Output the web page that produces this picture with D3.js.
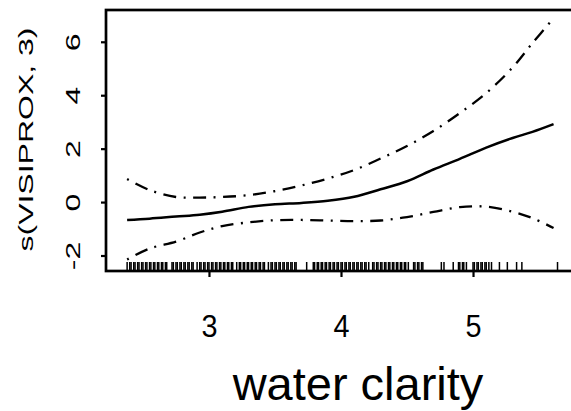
<!DOCTYPE html>
<html>
<head>
<meta charset="utf-8">
<script src="https://cdn.jsdelivr.net/npm/d3@7"></script>
<style>
  html, body { margin: 0; padding: 0; background: #fff; }
  svg { display: block; }
  text { font-family: "Liberation Sans", Arial, sans-serif; fill: #000; }
</style>
</head>
<body>
<div id="chart"></div>
<script>
// smooth term of water clarity
const clarity = [2.38, 2.55, 2.75, 2.93, 3.1, 3.3, 3.5, 3.7, 3.9, 4.1, 4.3, 4.5, 4.7, 4.9, 5.1, 5.3, 5.45, 5.61];
const fit     = [-0.67, -0.62, -0.54, -0.47, -0.36, -0.18, -0.08, -0.03, 0.05, 0.20, 0.48, 0.78, 1.22, 1.62, 2.04, 2.40, 2.63, 2.92];
const upper   = [0.86, 0.45, 0.19, 0.17, 0.19, 0.26, 0.41, 0.62, 0.88, 1.20, 1.63, 2.10, 2.66, 3.33, 4.08, 5.04, 5.95, 6.88];
const lower   = [-2.15, -1.74, -1.48, -1.14, -0.90, -0.76, -0.68, -0.67, -0.69, -0.71, -0.69, -0.56, -0.37, -0.19, -0.17, -0.36, -0.60, -0.97];

// observed values (rug)
const rug = [
  2.38, 2.40, 2.41, 2.43, 2.44, 2.46, 2.47, 2.49, 2.50, 2.52, 2.53, 2.55, 2.56, 2.58, 2.59, 2.61, 2.62, 2.64, 2.65, 2.67, 2.68,
  2.72, 2.73, 2.75, 2.76, 2.78, 2.79, 2.81, 2.82, 2.84, 2.85, 2.87, 2.88, 2.91, 2.93, 2.94, 2.96, 2.97, 2.99, 3.00,
  3.02, 3.03, 3.05, 3.06, 3.08, 3.09, 3.11, 3.12, 3.14, 3.15, 3.17, 3.18, 3.21, 3.23, 3.24, 3.26, 3.27, 3.29, 3.30,
  3.32, 3.33, 3.35, 3.36, 3.38, 3.39, 3.41, 3.42, 3.45, 3.47, 3.48, 3.50, 3.51, 3.53, 3.54, 3.56, 3.57, 3.59, 3.60,
  3.62, 3.63, 3.65, 3.66,
  3.74,
  3.79, 3.80, 3.82, 3.83, 3.85, 3.86, 3.88, 3.89, 3.91, 3.92, 3.94, 3.95, 3.97, 3.98, 4.00, 4.01, 4.03, 4.04,
  4.06, 4.07, 4.09, 4.10, 4.12, 4.13, 4.15, 4.16, 4.18, 4.19, 4.21, 4.24, 4.25, 4.27, 4.28, 4.30, 4.31,
  4.33, 4.34, 4.36, 4.37, 4.39, 4.40, 4.42, 4.43, 4.45, 4.46, 4.48, 4.49, 4.51,
  4.55, 4.56, 4.58, 4.59, 4.61, 4.62,
  4.76, 4.78, 4.85, 4.89, 4.90, 4.92, 4.93, 4.95, 5.00, 5.01, 5.03, 5.04, 5.06, 5.07, 5.09, 5.10, 5.12, 5.14,
  5.20, 5.26, 5.33, 5.37, 5.64
];

const xTicks = [3, 4, 5];
const yTicks = [-2, 0, 2, 4, 6];

const width = 571, height = 411;
const margin = { top: 10, left: 106, bottom: 271 };

const svg = d3.select('#chart').append('svg')
  .attr('width', width)
  .attr('height', height);

const x = d3.scaleLinear().domain([2.22, 5.78]).range([margin.left, margin.left + 470]);
const y = d3.scaleLinear().domain([-2.58, 7.19]).range([margin.bottom, margin.top]);

// frame (right side runs off the picture)
svg.append('rect')
  .attr('x', x.range()[0]).attr('y', y.range()[1])
  .attr('width', x.range()[1] - x.range()[0])
  .attr('height', y.range()[0] - y.range()[1])
  .attr('fill', 'none').attr('stroke', '#000').attr('stroke-width', 2.7);

// axes
const yAxis = d3.axisLeft(y).tickValues(yTicks).tickSize(5).tickSizeOuter(0).tickFormat(d3.format('d'));
const gy = svg.append('g').attr('transform', 'translate(' + margin.left + ',0)').call(yAxis);
gy.select('.domain').remove();
gy.selectAll('.tick line').attr('stroke-width', 2.2);
gy.selectAll('.tick text')
  .attr('x', null).attr('dy', null)
  .attr('text-anchor', 'middle')
  .attr('font-size', 32)
  .attr('transform', 'translate(-26,0) scale(0.66,1) rotate(-90)')
  .text(d => d < 0 ? '-' + Math.abs(d) : d);

const xAxis = d3.axisBottom(x).tickValues(xTicks).tickSize(6).tickSizeOuter(0).tickFormat(d3.format('d'));
const gx = svg.append('g').attr('transform', 'translate(0,' + margin.bottom + ')').call(xAxis);
gx.select('.domain').remove();
gx.selectAll('.tick line').attr('stroke-width', 2.2);
gx.selectAll('.tick text')
  .attr('y', null).attr('dy', null)
  .attr('text-anchor', 'middle')
  .attr('font-size', 32)
  .attr('transform', 'translate(0,66) scale(0.9,1)');

// rug
svg.append('g').selectAll('line').data(rug).join('line')
  .attr('x1', d => x(d)).attr('x2', d => x(d))
  .attr('y1', margin.bottom).attr('y2', margin.bottom - 9)
  .attr('stroke', '#000').attr('stroke-width', 1.5);

// curves
const pts = vals => clarity.map((c, i) => [c, vals[i]]);
const line = d3.line().x(d => x(d[0])).y(d => y(d[1])).curve(d3.curveCatmullRom.alpha(0.5));

svg.append('path').attr('d', line(pts(fit)))
  .attr('fill', 'none').attr('stroke', '#000').attr('stroke-width', 2.5);

[upper, lower].forEach(band => {
  svg.append('path').attr('d', line(pts(band)))
    .attr('fill', 'none').attr('stroke', '#000').attr('stroke-width', 2.3)
    .attr('stroke-dasharray', '2,7.5,13,7.5');
});

// labels
svg.append('text')
  .attr('text-anchor', 'middle')
  .attr('font-size', 32)
  .attr('transform', 'translate(33,139.5) scale(0.66,1) rotate(-90)')
  .text('s(VISIPROX, 3)');

svg.append('text')
  .attr('x', 358).attr('y', 400)
  .attr('text-anchor', 'middle')
  .attr('font-size', 47)
  .text('water clarity');
</script>
</body>
</html>
